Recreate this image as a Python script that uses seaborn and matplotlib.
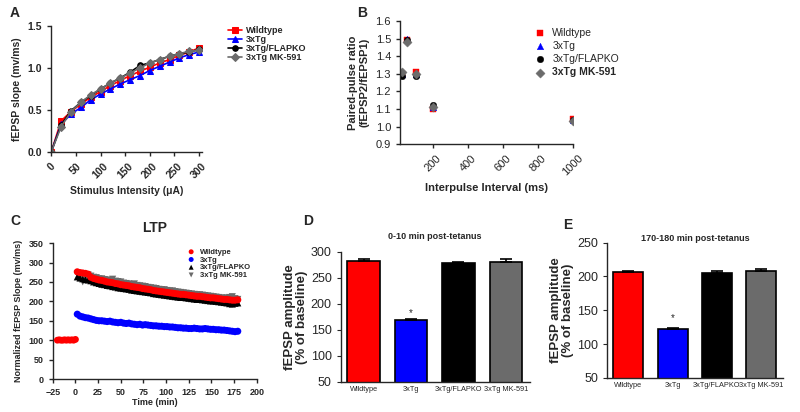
import numpy as np
import pandas as pd
import matplotlib
matplotlib.use("Agg")
import matplotlib.pyplot as plt
import seaborn as sns

# ---- data ----
groups = ["Wildtype", "3xTg", "3xTg/FLAPKO", "3xTg MK-591"]
colors = ["#ff0000", "#0000ff", "#000000", "#6b6b6b"]

# A: input/output
stim = [0, 20, 40, 60, 80, 100, 120, 140, 160, 180, 200, 220, 240, 260, 280, 300]
io_wt = [0, 0.37, 0.48, 0.57, 0.65, 0.72, 0.79, 0.85, 0.91, 0.96, 1.01, 1.06, 1.10, 1.15, 1.19, 1.24]
io_tg = [0, 0.33, 0.45, 0.53, 0.62, 0.69, 0.75, 0.81, 0.86, 0.91, 0.97, 1.02, 1.07, 1.12, 1.16, 1.19]
io_ko = [0, 0.32, 0.49, 0.59, 0.67, 0.75, 0.82, 0.88, 0.95, 1.03, 1.06, 1.10, 1.14, 1.17, 1.19, 1.22]
io_mk = [0, 0.30, 0.48, 0.59, 0.68, 0.75, 0.82, 0.88, 0.94, 1.00, 1.06, 1.10, 1.14, 1.17, 1.20, 1.21]

# B: paired-pulse ratio
ipi = [20, 50, 100, 200, 1000]
ppr_wt = [1.30, 1.49, 1.31, 1.10, 1.045]
ppr_tg = [1.30, 1.50, 1.30, 1.11, 1.04]
ppr_ko = [1.29, 1.49, 1.29, 1.12, 1.04]
ppr_mk = [1.31, 1.48, 1.30, 1.11, 1.03]

# C: LTP time course
base_t = [-20, -18, -16, -14, -12, -10, -8, -6, -4, -2, 0]
base_wt = [100, 101, 100, 100, 101, 100, 101, 100, 101, 100, 102]
ltp_t = np.arange(2, 180, 3)
ltp_wt = [276, 274, 273, 272, 270, 262, 259, 257, 255, 254, 252, 250, 249, 248, 246,
          245, 243, 242, 241, 240, 238, 237, 236, 235, 233, 232, 231, 230, 228, 227,
          226, 225, 224, 223, 222, 221, 220, 219, 218, 218, 217, 216, 215, 214, 213,
          213, 212, 211, 210, 209, 209, 208, 207, 206, 205, 205, 204, 203, 203, 204]
ltp_tg = [167, 162, 160, 158, 157, 155, 153, 151, 150, 150, 149, 148, 149, 147, 146,
          145, 146, 144, 143, 144, 142, 141, 140, 141, 139, 140, 139, 138, 137, 137,
          136, 136, 135, 135, 134, 134, 133, 132, 132, 131, 131, 130, 130, 131, 130,
          129, 129, 130, 129, 128, 128, 127, 127, 126, 126, 125, 124, 123, 122, 123]
ltp_ko = [263, 260, 258, 256, 255, 253, 250, 248, 246, 244, 243, 241, 240, 238, 237,
          235, 234, 233, 232, 231, 229, 228, 227, 226, 225, 224, 223, 222, 220, 219,
          218, 217, 216, 215, 214, 213, 212, 211, 210, 210, 209, 208, 207, 206, 205,
          205, 204, 203, 202, 201, 201, 200, 199, 198, 197, 196, 194, 193, 195, 196]
ltp_mk = [270, 262, 250, 262, 268, 265, 262, 261, 258, 258, 256, 255, 254, 257, 252,
          251, 250, 247, 246, 245, 243, 245, 241, 240, 239, 238, 236, 235, 234, 233,
          231, 230, 230, 228, 227, 227, 225, 224, 223, 222, 221, 220, 219, 218, 217,
          217, 216, 215, 214, 213, 212, 211, 210, 209, 208, 209, 210, 212, 207, 205]

# D / E: bar summaries
bar_labels = ["Wildtype", "3xTg", "3xTg/FLAPKO", "3xTg MK-591"]
d_mean = [283, 168, 278, 281]
d_err = [3, 3, 3, 5]
e_mean = [206, 122, 205, 208]
e_err = [2, 2, 3, 3]

# ---- style ----
sns.set_style("ticks")
plt.rcParams["font.family"] = ["Liberation Sans", "DejaVu Sans"]
plt.rcParams["axes.linewidth"] = 1.0

fig = plt.figure(figsize=(8, 4.12), dpi=100)


def clean(ax):
    sns.despine(ax=ax)
    ax.tick_params(length=3, width=1)


# ---- A ----
axA = fig.add_axes([0.064, 0.631, 0.188, 0.306])
io_sets = [io_wt, io_tg, io_ko, io_mk]
io_marks = ["s", "^", "o", "D"]
for g, vals, c, m in zip(groups, io_sets, colors, io_marks):
    sns.lineplot(x=stim, y=vals, ax=axA, color=c, marker=m, markersize=4,
                 markeredgecolor=c, linewidth=1.2, label=g)
axA.set_xlim(0, 305)
axA.set_ylim(0, 1.5)
axA.set_xticks([0, 50, 100, 150, 200, 250, 300])
axA.set_yticks([0, 0.5, 1.0, 1.5])
axA.set_yticklabels(["0.0", "0.5", "1.0", "1.5"])
for lab in axA.get_xticklabels():
    lab.set_rotation(45)
axA.tick_params(labelsize=7.5)
for lab in axA.get_xticklabels() + axA.get_yticklabels():
    lab.set_fontweight("bold")
axA.set_xlabel("Stimulus Intensity (\u03bcA)", fontsize=7.5, fontweight="bold")
axA.set_ylabel("fEPSP slope (mv/ms)", fontsize=7.5, fontweight="bold")
clean(axA)
hA, lA = axA.get_legend_handles_labels()
axA.legend_.remove()
fig.legend(hA, lA, loc="upper left", bbox_to_anchor=(0.275, 0.957), frameon=False,
           prop={"size": 6.5, "weight": "bold"}, labelspacing=0.0, handlelength=1.5,
           handletextpad=0.5)

# ---- B ----
axB = fig.add_axes([0.500, 0.650, 0.216, 0.299])
ppr_sets = [ppr_wt, ppr_tg, ppr_ko, ppr_mk]
ppr_marks = ["s", "^", "o", "D"]
for g, vals, c, m in zip(groups, ppr_sets, colors, ppr_marks):
    sns.scatterplot(x=ipi, y=vals, ax=axB, color=c, marker=m, s=22,
                    edgecolor=c, linewidth=0.3, label=g)
axB.set_xlim(9, 1000)
axB.set_ylim(0.9, 1.6)
axB.set_xticks([200, 400, 600, 800, 1000])
axB.set_yticks([0.9, 1.0, 1.1, 1.2, 1.3, 1.4, 1.5, 1.6])
axB.set_yticklabels(["0.9", "1.0", "1.1", "1.2", "1.3", "1.4", "1.5", "1.6"])
for lab in axB.get_xticklabels():
    lab.set_rotation(45)
axB.tick_params(labelsize=8)
axB.set_xlabel("Interpulse Interval (ms)", fontsize=8, fontweight="bold")
axB.set_ylabel("Paired-pulse ratio\n(fEPSP2/fEPSP1)", fontsize=8, fontweight="bold")
clean(axB)
hB, lB = axB.get_legend_handles_labels()
axB.legend_.remove()
legB = fig.legend(hB, lB, loc="upper left", bbox_to_anchor=(0.65, 0.955), frameon=False,
                  prop={"size": 7.5}, labelspacing=0.3, handletextpad=0.2, markerscale=1.0)
legB.get_texts()[3].set_fontweight("bold")

# ---- C ----
axC = fig.add_axes([0.066, 0.080, 0.255, 0.330])
sns.scatterplot(x=base_t, y=base_wt, ax=axC, color=colors[0], marker="o", s=24,
                edgecolor="none", zorder=5)
ltp_sets = [ltp_wt, ltp_tg, ltp_ko, ltp_mk]
ltp_marks = ["o", "o", "^", "v"]
ltp_z = [5, 4, 3, 2]
for g, vals, c, m, z in zip(groups, ltp_sets, colors, ltp_marks, ltp_z):
    sns.scatterplot(x=ltp_t, y=vals, ax=axC, color=c, marker=m, s=26,
                    edgecolor="none", zorder=z, label=g)
axC.set_xlim(-25, 200)
axC.set_ylim(0, 350)
axC.set_xticks(list(range(-25, 201, 25)))
axC.set_yticks(list(range(0, 351, 50)))
axC.tick_params(labelsize=6.5)
for lab in axC.get_xticklabels() + axC.get_yticklabels():
    lab.set_fontweight("bold")
axC.set_xlabel("Time (min)", fontsize=6.5, fontweight="bold", labelpad=1)
axC.set_ylabel("Normalized fEPSP Slope (mv/ms)", fontsize=6.5, fontweight="bold")
axC.set_title("LTP", fontsize=10, fontweight="bold", pad=8)
clean(axC)
axC.legend(loc="upper right", bbox_to_anchor=(1.0, 1.0), frameon=False,
           prop={"size": 5.5, "weight": "bold"}, labelspacing=0.05, handletextpad=0.2,
           markerscale=0.7, borderaxespad=0.3)


# ---- D / E ----
def bar_panel(rect, means, errs, ylim, yticks, title, star_y, tpad):
    ax = fig.add_axes(rect)
    df = pd.DataFrame({"group": bar_labels, "value": means})
    sns.barplot(data=df, x="group", y="value", hue="group", palette=colors,
                saturation=1, ax=ax, width=0.68, edgecolor="black", linewidth=1.2,
                errorbar=None, legend=False)
    ax.errorbar(x=range(len(means)), y=means, yerr=[[0] * len(errs), errs],
                fmt="none", ecolor="black", capsize=4.5, elinewidth=1.2, capthick=1.2)
    ax.set_ylim(*ylim)
    ax.set_xlim(-0.48, 3.5)
    ax.set_yticks(yticks)
    ax.tick_params(axis="y", labelsize=9, length=3)
    ax.tick_params(axis="x", labelsize=5.3, length=0, pad=3)
    ax.set_xlabel("")
    ax.set_ylabel("fEPSP amplitude\n(% of baseline)", fontsize=9.5, fontweight="bold",
                  labelpad=2, linespacing=1.0)
    ax.set_title(title, fontsize=6.5, fontweight="bold", pad=tpad)
    ax.text(1, star_y, "*", ha="center", va="center", fontsize=7)
    sns.despine(ax=ax)
    return ax


axD = bar_panel([0.426, 0.073, 0.236, 0.316], d_mean, d_err, (50, 300),
                [50, 100, 150, 200, 250, 300], "0-10 min post-tetanus", 183, 9)
axE = bar_panel([0.759, 0.083, 0.220, 0.328], e_mean, e_err, (50, 250),
                [50, 100, 150, 200, 250], "170-180 min post-tetanus", 138, 0)

# ---- panel letters ----
for letter, x, y in [("A", 10, 13), ("B", 357, 13), ("C", 10, 221),
                     ("D", 303, 221), ("E", 563, 225)]:
    fig.text(x / 800, 1 - y / 412, letter, fontsize=10, fontweight="bold",
             ha="left", va="center")

fig.savefig("out.png", dpi=100)
